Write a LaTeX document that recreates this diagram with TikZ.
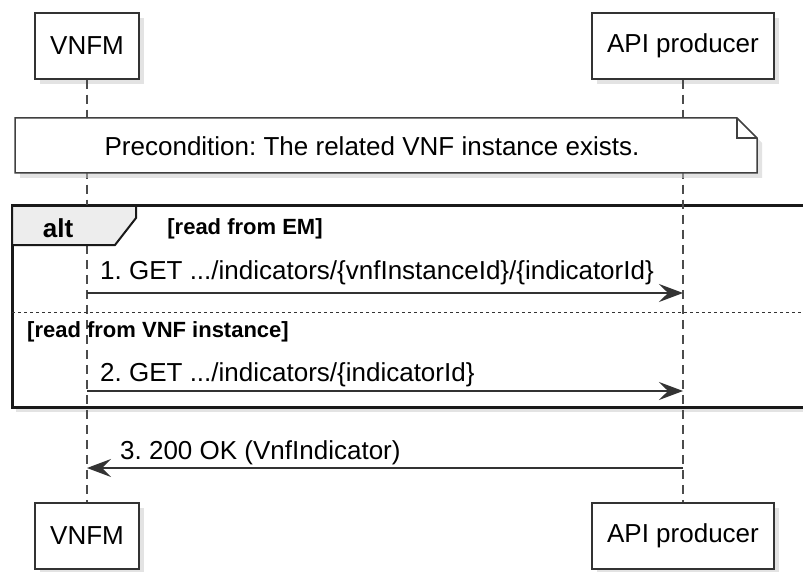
\documentclass[tikz,border=0pt]{standalone}
\usepackage{fontspec}
\setmainfont{Liberation Sans}
\usetikzlibrary{arrows.meta,shadows,calc}
\frenchspacing

\begin{document}
\begin{tikzpicture}[x=1pt,y=-1pt,
  actor/.style={draw=black!80,line width=1.5pt,fill=white,minimum height=66pt,inner xsep=15pt,font=\fontsize{26}{30}\selectfont,
    drop shadow={shadow xshift=5pt,shadow yshift=-5pt,fill=black!22}},
  life/.style={draw=black!70,line width=1.3pt,dash pattern=on 9pt off 6pt},
  msg/.style={draw=black!80,line width=1.3pt,-{Stealth[length=24pt,width=18pt,inset=9pt]}},
  lbl/.style={anchor=west,inner sep=0pt,font=\fontsize{26}{30}\selectfont},
  guard/.style={inner sep=0pt,font=\bfseries\fontsize{22}{26}\selectfont},
  notebox/.style={draw=black!75,line width=1.5pt,fill=white,drop shadow={shadow xshift=5pt,shadow yshift=-5pt,fill=black!22}},
  frame/.style={draw=black!90,line width=3pt,fill=white,drop shadow={shadow xshift=4pt,shadow yshift=-5pt,fill=black!22}},
  tab/.style={draw=black!90,line width=2pt,fill=black!7},
  sep/.style={draw=black!80,line width=1pt,dash pattern=on 3pt off 3pt}]
\useasboundingbox (0,0) rectangle (803,572);
\clip (0,0) rectangle (803,572);
% participants
\node[actor] (vnfm) at (87,46) {VNFM};
\node[actor] (api) at (683,46) {API producer};
\node[actor] (vnfmB) at (87,536) {VNFM};
\node[actor] (apiB) at (683,536) {API producer};
% alt frame
\draw[frame] (12,206) rectangle (808,407);
% lifelines
\draw[life] (vnfm) -- (vnfmB);
\draw[life] (api) -- (apiB);
% precondition note
\draw[notebox] (15,118) -- (737,118) -- (757,138) -- (757,173) -- (15,173) -- cycle;
\draw[draw=black!75,line width=1.5pt] (737,118) |- (757,138);
\node[inner sep=0pt,font=\fontsize{26}{30}\selectfont] (pre) at (372,146) {Precondition: The related VNF instance exists.};
% alt tab and separator
\draw[tab] (12,206) -- (136,206) -- (136,218) -- (115,245) -- (12,245) -- cycle;
\node[inner sep=0pt,font=\bfseries\fontsize{26}{30}\selectfont] (alt) at (58,228) {alt};
\node[guard] (em) at (245,229) {[read from EM]};
\draw[sep] (12,312) -- (808,312);
\node[guard] (vnfi) at (158,332) {[read from VNF instance]};
% messages
\coordinate (m1a) at (vnfm.south |- 0,293);
\coordinate (m1b) at (api.south |- 0,293);
\coordinate (m2a) at (vnfm.south |- 0,391);
\coordinate (m2b) at (api.south |- 0,391);
\coordinate (m3a) at (api.south |- 0,468);
\coordinate (m3b) at (vnfm.south |- 0,468);
\draw[msg] (m1a) -- (m1b);
\node[lbl] (l1) at (100,273) {1. GET .../indicators/\{vnfInstanceId\}/\{indicatorId\}};
\draw[msg] (m2a) -- (m2b);
\node[lbl] (l2) at (100,375) {2. GET .../indicators/\{indicatorId\}};
\draw[msg] (m3a) -- (m3b);
\node[lbl] (l3) at (120,453) {3. 200 OK (VnfIndicator)};
\end{tikzpicture}
\end{document}
